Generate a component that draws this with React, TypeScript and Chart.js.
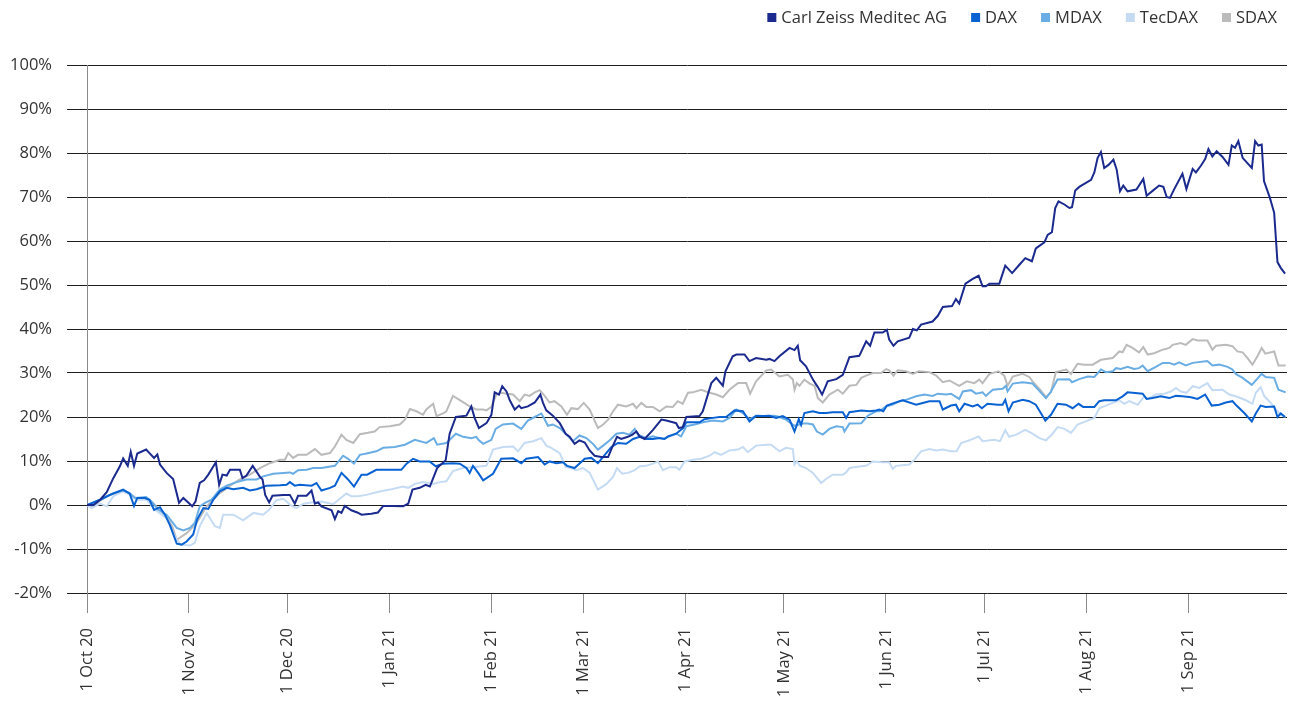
import React, { useEffect, useRef } from "react";
import { Chart, registerables } from "chart.js";

Chart.register(...registerables);

// x = days since 1 Oct 2020, y = performance in %
const monthDays = [0, 31, 61, 92, 123, 151, 182, 212, 243, 273, 304, 335];
const monthLabels = ["1 Oct 20", "1 Nov 20", "1 Dec 20", "1 Jan 21", "1 Feb 21", "1 Mar 21", "1 Apr 21", "1 May 21", "1 Jun 21", "1 Jul 21", "1 Aug 21", "1 Sep 21"];
const yTicks = [-20, -10, 0, 10, 20, 30, 40, 50, 60, 70, 80, 90, 100];

const seriesNames = ["Carl Zeiss Meditec AG", "DAX", "MDAX", "TecDAX", "SDAX"];
const seriesColors = ["#1B2A8E", "#0A62D2", "#69ADE4", "#C5DBF3", "#BBBBBB"];

const zeiss: [number, number][] = [
  [0,0],[2,0],[4,1.2],[6,2.9],[8,6.1],[10,8.8],[11,10.6],[12.4,8.9],[13.3,12.1],[14.3,8.9],[15.3,11.7],[18,12.6],[19,11.8],[20.4,10.7],[21.4,11.5],[22.2,9.2],[24.2,7.3],[26.2,5.9],[28,0.5],[29.3,1.6],[32,-0.3],[33,0.8],[34.3,5],[35.6,5.6],[36.9,6.9],[39.2,9.7],[40.2,4.6],[41.2,6.9],[42.5,6.7],[43.5,8],[46.5,8],[47.3,6.1],[48.5,6.7],[50.4,8.9],[52.6,6.4],[53.4,5.8],[54.2,2.3],[55.4,0.6],[56.4,2.1],[59.7,2.3],
  [61.7,2.3],[63.2,0.3],[64.2,2.1],[66.8,2.1],[68.3,3.3],[69.3,0.3],[70.3,0.6],[71.3,-0.3],[74.4,-1.2],[75.4,-3.2],[76.4,-1.4],[77.4,-1.8],[78.4,-0.2],[80.4,-1.2],[82.2,-1.7],[83.5,-2.2],[86.5,-2],[88.5,-1.7],[90.1,-0.2],[93.1,-0.2],[96.1,-0.3],[97.7,0.3],[99,3.5],[101.2,3.9],[103,4.6],[104.3,4.2],[105.3,6.1],[106.5,8.4],[109.1,10.2],[110.3,16.2],[112.2,20],[115.4,20.3],[116.9,22.4],[117.9,19.8],[119.2,17.5],
  [121.5,18.6],[123,20.5],[124,25.6],[125.3,25.1],[126.3,27],[127.6,25.8],[128.6,23.8],[130.1,21.7],[131.4,22.6],[132.1,22],[134.1,22.4],[136.2,23.3],[137.9,25.1],[138.7,23.2],[139.7,21.5],[141.7,20.3],[143.8,18.6],[145.6,16.2],[146.8,15.5],[148.3,13.9],[149.8,14.7],[151.4,14.2],[152.9,12.4],[154.4,11.2],[156.4,10.9],[158.5,10.9],[159.5,12.7],[161.2,15.5],[162.5,15],[164.5,15.5],[165.9,16],[167.1,16.7],[168.1,15.6],[169.6,15],[172.1,17],[174.7,19.4],[176.2,19.2],[178.2,18.8],[179.2,18.6],[180,17.5],[181.2,17.7],
  [182.3,20],[186.3,20.2],[187.3,21.3],[189.9,27.7],[191.4,28.9],[193.4,27.1],[194.2,30.4],[196.4,33.8],[197.5,34.2],[200,34.2],[201.5,32.7],[203.5,33.4],[206.6,33],[207.6,33.2],[209.1,32.7],[210.6,33.8],[213.7,35.7],[215.2,35.2],[216.2,36.2],[216.9,32.9],[218.7,31.5],[220.8,28.5],[222.3,26.8],[223.6,25.1],[225.3,28.1],[227.9,28.6],[229.9,29.6],[231.9,33.6],[234.9,33.9],[237,37.2],[238.2,36.2],[239.5,39.2],[242,39.2],[243.3,39.8],
  [244,37.6],[245.3,36.2],[246.6,37.2],[250.1,38],[251.2,40],[252.4,39.7],[253.7,41],[257.2,41.7],[258.8,43],[260.3,45],[263.1,45.2],[264.3,46.8],[265.3,45.8],[267.2,50.3],[269.4,51.4],[271.2,52.1],[272.4,49.7],[273.4,49.7],[274.5,50.3],[277.5,50.3],[279.3,54.4],[281.4,52.7],[283.6,54.6],[285.4,56.1],[287.4,55.4],[288.6,58.3],[291.2,59.7],[292.2,61.4],
  [293.5,62],[294.5,67.5],[295.5,69],[297.3,68.3],[298.8,67.5],[299.6,67.7],[300.6,71.5],[301.8,72.3],
  [305.4,73.9],[306.4,75.6],[307.4,78.9],[308.4,80.2],[309.4,76.6],[310.7,77.3],[312.2,78.5],[313.2,76.2],[314.2,71.3],[315.2,72.6],[316.5,71.3],[319.2,71.7],[321.3,74.1],[322.3,70.3],[324.3,71.5],[326.1,72.6],[327.4,72.3],[328.4,70],[329.4,69.8],[330.7,71.8],[333.2,75.3],[334.4,71.8],[336.3,76.4],[337.3,75.6],[338.8,77.1],[340.1,78.6],[341.1,80.9],[342.3,79.2],[343.6,80.4],[345.4,79.1],[347.2,77.3],[348.2,81.7],[349.2,81.2],[350.2,82.7],[351.5,78.9],[354.3,76.6],[355.3,82.7],[356.3,81.7],[357.3,81.9],[358,73.6],[359.8,69.8],[361.1,66.4],[362.1,55.2],[363.1,53.9],[364.4,52.6]
];

const dax: [number, number][] = [
  [0,0],[4,1.2],[7,2.3],[9,2.9],[11,3.5],[13,2.6],[14.3,-0.2],[15.3,1.6],[17.6,1.6],[19,1.2],[20.4,-1.1],[22.2,-0.5],[23.7,-2.2],[25.2,-4.5],[27.3,-8.8],[28.8,-9],[30.3,-8.3],[32.3,-6.7],[33.5,-3.3],[35.4,-0.7],[36.9,-0.9],[38.4,1.2],[40.4,3.1],[42.5,3.9],[44.5,3.6],[47.5,3.9],[49.5,3.3],[51.6,3.6],[53.6,4.1],[54.6,4.4],[58.7,4.5],
  [60.7,4.6],[61.7,5.2],[63.2,4.4],[64.7,4.6],[68.3,4.4],[69.8,5],[71.3,3.3],[73.9,3.9],[75.4,4.4],[77.4,7.3],[79.4,5.8],[81.2,4.2],[83.5,6.9],[85.2,6.9],[88,8],[92.1,8],[95.6,8],[97.2,9.4],[99.2,10.5],[101.2,9.9],[104.2,9.9],[106.1,8.8],[108.3,9.4],[111.3,9.5],[113.4,9.4],[115.4,8.4],[116.4,7.3],[117.4,8.9],[119,7.3],[120.5,5.6],
  [123.5,7.1],[126,10.5],[129.6,10.6],[132.1,9.5],[133.6,10.5],[137.2,10.9],[139.2,9.2],[140.7,9.9],[142.8,9.5],[144.8,9.7],[146,8.9],[148.3,8.4],[151.4,10.5],[153.4,10.7],[155.4,9.5],[157.5,11.4],[159.5,13.2],[161.5,14.1],[164,13.9],[166.1,15],[168.1,15.5],[170.1,15],[172.1,15],[174.2,15.2],[175.7,15],[176.7,15.6],[179.2,16.2],[181.3,17.5],
  [182.3,18.8],[186.3,18.8],[187.8,19.5],[190.4,19.8],[192.4,20],[194.4,20],[197,21.5],[199.5,21.3],[201.5,19],[203.5,20.3],[205.6,20.2],[207.6,20.3],[209.6,19.8],[211.6,20.2],[213.7,19.4],[215.2,16.7],[216.5,19.5],[217.2,18.2],[218.2,20.9],[220.8,21.3],[222.8,20.9],[224.8,20.9],[226.8,21.1],[229.9,21.1],[230.9,19.8],[231.9,21.1],[235.5,21.5],[238,21.3],[240,21.5],
  [241,21.7],[242.2,21.3],[243.3,22.6],[245.6,23.2],[248.1,23.8],[252.2,22.8],[254.2,23.2],[256.2,23.6],[259.3,23.6],[260.3,21.7],[262.8,22.6],[264.3,22.8],[265.3,21.3],[266.9,23],[269.4,22.4],[270.9,22.8],[272.2,22],[273.9,23],[277,22.8],[278.5,22.8],[279.3,23.9],[280.3,21.3],[281.6,23.3],[284.6,23.9],[286.6,23.6],[288.6,22.8],[290.2,20.8],[291.5,19.2],[293.2,20.5],[295.2,23],[297.8,22.8],[299.8,22],[301.6,23],
  [303,22.3],[306.4,22.3],[307.9,23.6],[309.4,23.8],[313,23.8],[315,24.7],[316.5,25.6],[321.1,25.3],[322.3,24.1],[324.1,24.3],[326.6,24.7],[329.2,24.3],[331.2,24.8],[333.2,24.7],[335.8,24.5],[337.8,24.1],[340.1,25.1],[342.1,22.6],[344.4,22.8],[346.4,23.3],[348.4,23.6],[349.4,22.8],[352,20.9],[354.3,19],[355.5,20.8],[357,22.6],[358.5,22.3],[361.1,22.4],[362.1,20],[363.1,20.8],[364.4,20]
];

const mdax: [number, number][] = [
  [0,0],[4,1.2],[8,2.7],[11,3.3],[13,2.7],[14.6,1.6],[18,1.8],[19.6,0.8],[21.7,-1.1],[24.2,-2.2],[27.3,-5.2],[29.3,-5.8],[31.3,-5.2],[32.8,-4.1],[34.3,-0.3],[35.9,0.5],[37.9,1.2],[40.4,3.5],[42.5,4.4],[45.5,5.2],[48.5,5.8],[51.6,5.8],[53.6,6.5],[56.6,7.1],[61.7,7.4],
  [62.7,7.1],[64.2,7.9],[66.8,8],[68.8,8.4],[71.3,8.4],[75.4,8.9],[77.9,11.2],[79.4,10.5],[81.2,9.4],[83,11.4],[85,11.7],[88,12.2],[90.1,13],[93.6,13.2],[96.7,13.7],[99.7,14.8],[103.2,14.1],[105.5,15.2],[106.5,13.7],[109.3,14.1],[112.2,16.2],[114.4,15.5],[116.9,15.2],[118.4,15.5],[119.2,14.7],[120.5,13.9],
  [123,14.8],[124.3,17.3],[126.5,18.3],[129.6,18.5],[132.1,17.3],[134.1,19.2],[136.2,20],[138.2,20.8],[139.2,19.5],[140.2,18],[141.7,18.3],[143.8,17.5],[145.8,16],[147.8,14.5],[149.8,15.8],[151.9,15.2],[153.9,13.9],[155.4,12.6],[157,13.5],[159,14.7],[161,16.2],[163,16.4],[165,16],[166.6,17.3],[167.6,16],[170.1,15.2],[172.1,15.6],[175.2,15],[177.2,15.6],[179.2,16.2],[180.7,15.6],
  [182.3,17.9],[184.8,18.3],[187.3,18.8],[190.4,19.2],[193.4,19],[195.4,19.8],[197.5,21.7],[199.5,20.9],[201.5,19.5],[203.5,20.2],[206.6,20.2],[209.1,20.3],[210.6,20],[212.6,19.4],[215.2,18],[217.7,18.5],[219.2,18.5],[220.8,18.3],[222,16.7],[223.8,16],[225.8,17.3],[227.9,17.9],[229.9,17.7],[230.4,16.7],[231.9,18.5],[235.5,18.6],[237.5,20.3],[240,21.3],
  [241,21.3],[243,22.4],[245.1,22.8],[247.1,23.6],[249.1,23.9],[252.2,24.7],[254.7,25.1],[257.2,24.8],[258.8,25.3],[261.3,25.1],[262.8,25.3],[265.3,24.1],[266.4,25.8],[268.9,26.1],[270.4,25.3],[272.4,25.6],[273.4,24.8],[275.5,26.2],[278.5,26.4],[279.5,27.1],[280,25.8],[281.6,27.6],[284.6,27.9],[287.6,27.6],[289.1,26.4],[291.7,24.3],[293.2,25.8],[295.2,28.5],[298.8,28.6],[299.6,27.9],[301.8,28.6],
  [304.4,29.2],[306.4,29.1],[308.4,30.8],[309.9,30.2],[312,30.4],[313,31.1],[314.5,30.9],[316.5,31.4],[318.5,30.9],[320,31.1],[321.1,31.7],[322.6,30.4],[325.1,31.4],[327.2,32.3],[329.2,32.3],[330.7,31.9],[332.2,32.4],[334.2,31.7],[336.3,32.3],[340.8,32.7],[342.3,31.7],[344.4,31.9],[346.9,31.4],[348.4,30.8],[349.4,29.8],[351.5,28.9],[354.3,27.3],[357.3,29.8],[358.5,29.1],[361.1,28.9],[362.4,26.2],[364.6,25.6]
];

const tecdax: [number, number][] = [
  [0,0],[1.4,-0.7],[4,0.3],[6,-0.3],[8,2],[11,3.1],[13.1,2.3],[15.1,1.2],[18.1,1.2],[20.7,-1.1],[24.2,-3],[26.2,-6.4],[28.3,-9],[31.3,-9.2],[32.8,-8.6],[34.3,-4.8],[36.4,-1.8],[38.9,-4.8],[40.4,-5.2],[41.4,-2.2],[44.5,-2.2],[47.5,-3.5],[50.6,-1.8],[53.6,-2.2],[55.4,-1.1],[57.6,1.1],[59.7,1.4],
  [60.7,0.8],[61.7,0.1],[63.7,-0.7],[65.8,0.3],[68.8,0.6],[71.3,0.8],[74.9,0.2],[76.9,1.4],[78.9,2.6],[80.4,2],[82.5,2],[85,2.3],[88,2.9],[92.1,3.5],[96.1,4.2],[97.7,3.9],[99.7,4.8],[102.2,5.2],[105.3,4.8],[107.3,5.2],[109.3,5.4],[111.3,7.7],[114.4,8.4],[117.4,8.6],[120,8.8],
  [121.5,8.9],[123.5,12.6],[126.5,13.2],[129.6,13.3],[131.1,12.2],[133.1,14.1],[135.7,14.5],[138.2,15.2],[139.7,13.5],[141.2,13],[143.8,11.8],[145.6,8.6],[147.3,8.4],[148.8,7.9],[150.9,8.4],[152.9,7.3],[155.4,3.5],[158,4.8],[160,6.4],[161.2,8.4],[162.8,7.1],[164.5,7.3],[166.6,7.9],[168.1,8.8],[170.1,8.9],[172.1,9.4],[173.7,9.9],[175.2,7.9],[177.2,8.6],[179.2,8.6],[180.2,8],
  [181.8,9.9],[184.3,10.3],[186.8,10.5],[189.4,11.2],[190.9,12],[192.9,11.4],[195.4,12.4],[198,12.6],[199.5,13.2],[201,12],[203.5,13.5],[206.6,13.7],[208.1,13.7],[210.6,12.2],[212.6,13],[214.7,12.7],[215.2,9.2],[215.9,9.9],[216.9,8.9],[218.7,8.4],[220.8,7.3],[223.3,5],[224.8,5.9],[226.8,6.9],[229.9,6.9],[230.9,7.4],[231.9,8.4],[235.5,8.8],[237,8.9],[239,9.9],[242,9.7],
  [244,9.7],[245.1,8.2],[246.1,8.9],[250.1,9.2],[251.7,10.3],[253.7,12.2],[256.2,12.7],[258.3,12.4],[260.3,12.6],[262.8,12.2],[264.5,12.2],[265.9,14.1],[268.4,14.7],[271.2,15.6],[272.4,14.5],[276,14.8],[277.7,14.5],[279.3,17],[280.5,15.5],[282.6,16],[285.4,17.1],[287.6,16.2],[289.7,15.2],[291.7,14.7],[293.7,16.2],[295.2,17.7],[297.3,17.3],[299.3,16.4],[301.3,18.3],
  [303.8,19],[306.4,19.8],[307.9,22],[309.9,22.6],[312,23.2],[314,23.8],[315.5,23],[317,23.6],[319.6,22.8],[321.6,24.7],[322.6,24.1],[325.1,25.1],[327.7,25.3],[329.7,25.8],[331.2,26.6],[332.7,25.8],[334.4,25.5],[336.3,27],[338.3,26.6],[340.8,27.7],[342.3,26.1],[345.4,26.2],[347.4,25.1],[349.4,24.7],[352.5,23.8],[354.5,23],[355.5,25.5],[357,26.8],[358.1,24.7],[360.1,23.2],[361.6,21.7],[363.1,20.5],[364.6,20]
];

const sdax: [number, number][] = [
  [0,0],[2,-0.3],[4,1],[6,2],[9,2.8],[11,3.2],[13,2.5],[15,1.5],[18,1.5],[20,0.5],[22,-1],[24,-2.5],[26,-5],[27.3,-7.9],
  [30.3,-6.4],[33.3,-4.1],[36.4,-0.3],[38.4,1.2],[40.4,2.7],[43.5,4.4],[46.5,5.8],[49.5,6.9],[52.6,8.4],[55.6,9.5],[58.7,10.3],[60.2,10.3],[61.2,11.8],
  [62.7,10.7],[64.2,11.4],[66.8,11.4],[69.3,12.7],[71.3,11.4],[73.9,11.8],[75.4,13.3],[77.4,16],[78.9,14.8],[81,14.1],[83,16.1],[85.5,16.4],[87.5,16.7],[89,17.7],[92.1,17.9],[95.1,18.3],[96.7,19.4],[98.2,21.8],[100.2,21.3],[102.2,20.5],[103.2,21.7],[105.3,23],[106.3,20.2],[108.3,20.8],[109.3,21.3],[111.3,24.8],[113.9,23.6],[116.4,22.4],[118.4,21.7],[120.5,21.7],
  [121.5,21.5],[123,22.3],[124.5,25.1],[126,25.5],[127.6,25.3],[129.6,25.1],[131.6,23.6],[133.1,25.1],[134.6,24.8],[136.2,25.6],[137.7,26.1],[139.2,24.8],[140.7,23.3],[142.2,23.6],[144.3,22.4],[146,20.5],[147.3,22],[149.3,21.8],[151.1,23.2],[152.9,21.7],[155.4,17.5],[157,18.3],[158.5,19.4],[160,21.3],[161.5,22.8],[164,22.4],[166.1,23],[167.1,22],[168.6,23.2],[170.1,22.3],[172.1,22.3],[174.2,21.3],[176.2,22.4],[178.2,22.3],[179.7,23.6],[180.7,23.2],
  [181.2,23],[182.8,25.5],[184.3,25.6],[186.8,26.2],[189.4,25.5],[191.4,25.1],[193.4,24.5],[195.4,26.2],[198,27.7],[200.5,27.7],[201.7,25.3],[203.5,28.1],[206.6,30.6],[208.1,30.8],[210.6,29.2],[213.2,29.6],[214.7,28.5],[215.2,26.2],[215.9,27.7],[216.7,27.1],[218.2,28.5],[219.8,27.6],[221.3,27.1],[222.3,24.3],[223.8,23.3],[225.8,25.1],[228.4,26.2],[229.9,25.3],[231.9,27.1],[234,27.3],[235.5,28.9],[237,29.4],[239,30],[241.5,30],[243.1,30.9],
  [244,30.6],[245.3,29.4],[246.6,30.6],[249.1,30.4],[251.2,29.8],[253,30.4],[256.2,30.2],[258.3,29.4],[260.3,27.9],[262.3,28.3],[265.3,27.1],[267.6,28.1],[269.9,27.7],[271.4,28.5],[272.4,27.7],[274.5,29.8],[277.3,30.4],[279,29.4],[280,27.1],[281.6,29.2],[284.6,29.8],[286.6,29.1],[287.6,28.1],[289.7,26.4],[291.7,24.5],[293.2,25.6],[294.7,30.2],[297.8,30.8],[299.3,29.8],[301.3,32.1],
  [303.3,31.9],[305.9,31.9],[308.4,33],[312,33.4],[314,34.9],[315,34.7],[316.2,36.4],[318,35.7],[320,34.7],[321.3,35.9],[322.6,34.2],[324.6,34.5],[327.2,35.3],[329.2,35.7],[330.2,36.4],[332.7,36.8],[334.2,36.4],[336.3,37.7],[337.8,37.4],[340.8,37.4],[342.3,35.3],[343.4,36.2],[346.4,36.4],[348.4,36.1],[349.9,34.9],[351.5,34.7],[353,33.4],[354.5,31.9],[356,33.8],[357.3,35.7],[358.4,34.4],[361.1,34.9],[362.4,31.7],[364.6,31.7]
];

const seriesData = [zeiss, dax, mdax, tecdax, sdax];

const FONT = '"Open Sans", "Noto Sans", sans-serif';
const FONT_SIZE = 16.5;

const customLegend = {
  id: "customLegend",
  afterDraw(chart: any) {
    const ctx = chart.ctx;
    ctx.save();
    ctx.font = `${FONT_SIZE}px ${FONT}`;
    ctx.textBaseline = "alphabetic";
    ctx.textAlign = "left";
    let xEnd = 1277;
    const baseline = 22.5;
    const ds = chart.data.datasets;
    for (let i = ds.length - 1; i >= 0; i--) {
      const label = ds[i].label as string;
      const w = ctx.measureText(label).width;
      const textX = xEnd - w;
      ctx.fillStyle = "#333333";
      ctx.fillText(label, textX, baseline);
      const boxX = textX - 5 - 9;
      ctx.fillStyle = ds[i].borderColor;
      ctx.fillRect(boxX, 13, 9, 9);
      xEnd = boxX - 24;
    }
    ctx.restore();
  },
};

export default function App() {
  const canvasRef = useRef<HTMLCanvasElement | null>(null);

  useEffect(() => {
    if (!canvasRef.current) return;
    const chart = new Chart(canvasRef.current, {
      type: "line",
      data: {
        datasets: seriesNames.map((name, i) => ({
          label: name,
          data: seriesData[i].map(([x, y]) => ({ x, y })),
          borderColor: seriesColors[i],
          backgroundColor: seriesColors[i],
          borderWidth: 2,
          pointRadius: 0,
          pointHoverRadius: 0,
          tension: 0,
          fill: false,
        })),
      },
      options: {
        animation: false,
        responsive: false,
        layout: { padding: { top: 65, left: 8, right: 8, bottom: 0 } },
        plugins: {
          legend: { display: false },
          tooltip: { enabled: false },
        },
        scales: {
          x: {
            type: "linear",
            min: 0,
            max: 365,
            afterBuildTicks: (scale: any) => {
              scale.ticks = monthDays.map((v) => ({ value: v }));
            },
            afterFit: (scale: any) => {
              scale.height = 109;
            },
            ticks: {
              autoSkip: false,
              maxRotation: 90,
              minRotation: 90,
              padding: 15,
              color: "#333333",
              font: { family: FONT, size: FONT_SIZE },
              callback: (value: any) => {
                const idx = monthDays.indexOf(Number(value));
                return idx >= 0 ? monthLabels[idx] : "";
              },
            },
            grid: {
              drawOnChartArea: false,
              drawTicks: true,
              tickLength: 20,
              color: "#8a8a8a",
              lineWidth: 1,
            },
            border: { display: false },
          },
          y: {
            type: "linear",
            min: -20,
            max: 100,
            afterBuildTicks: (scale: any) => {
              scale.ticks = yTicks.map((v) => ({ value: v }));
            },
            afterFit: (scale: any) => {
              scale.width = 79;
            },
            ticks: {
              padding: 15,
              color: "#333333",
              font: { family: FONT, size: FONT_SIZE },
              callback: (value: any) => `${value}%`,
            },
            grid: {
              color: "#1e1e1e",
              lineWidth: 1,
              drawTicks: true,
              tickLength: 20,
            },
            border: { display: true, color: "#8a8a8a", width: 1 },
          },
        },
      },
      plugins: [customLegend],
    });
    return () => chart.destroy();
  }, []);

  return (
    <div style={{ position: "absolute", left: 0, top: 0, width: 1295, height: 702 }}>
      <canvas ref={canvasRef} width={1295} height={702} style={{ display: "block" }} />
    </div>
  );
}
